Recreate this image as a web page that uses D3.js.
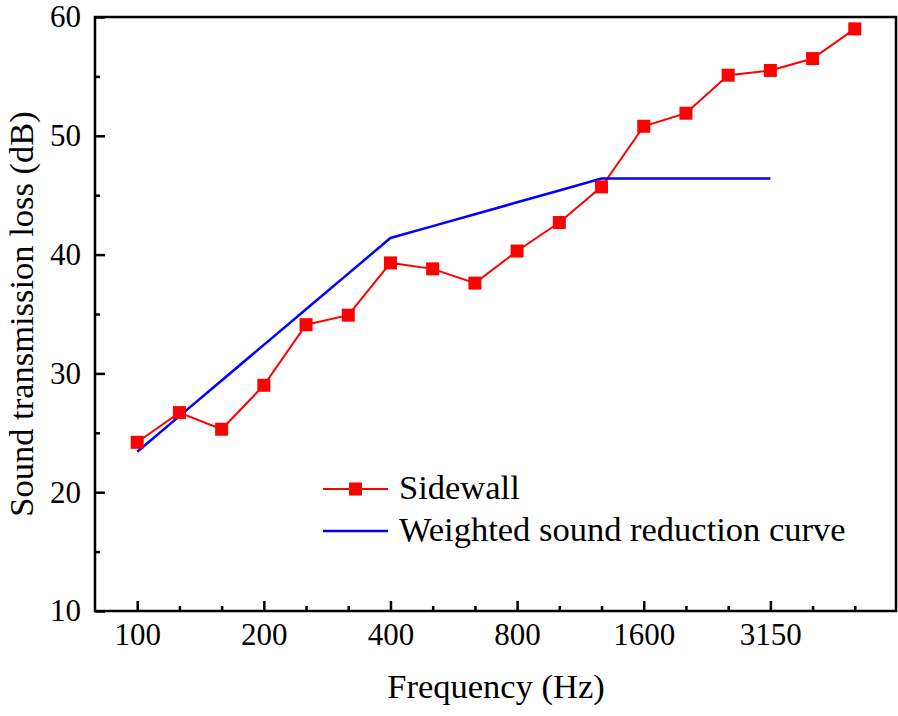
<!DOCTYPE html>
<html lang="en">
  <head>
      <meta charset="utf-8">
      <title>Sound transmission loss</title>
      <script type="text/javascript" src="https://cdn.jsdelivr.net/npm/d3@7"></script>
      <style type="text/css">
            body { margin: 0; background: #fff; }
            svg text { font-family: "Liberation Serif", "Times New Roman", serif; fill: #000; }
            .frame { fill: none; stroke: #000; stroke-width: 2.5; }
            .tick line { stroke: #000; stroke-width: 2.5; }
      </style>
  </head>
  <body>
      <script type="text/javascript">
        var w = 898;
        var h = 716;
        var margin = {left: 95, right: 1, top: 17, bottom: 105};

        // one-third octave bands
        var bands = ["100", "125", "160", "200", "250", "315", "400", "500", "630",
                     "800", "1000", "1250", "1600", "2000", "2500", "3150", "4000", "5000"];
        var labelledBands = ["100", "200", "400", "800", "1600", "3150"];
        var sidewall = [24.2, 26.7, 25.3, 29.0, 34.1, 34.9, 39.3, 38.8, 37.6,
                        40.3, 42.7, 45.7, 50.8, 51.9, 55.1, 55.5, 56.5, 59.0];
        var refBands = ["100", "125", "160", "200", "250", "315", "400", "500",
                        "630", "800", "1000", "1250", "1600", "2000", "2500", "3150"];
        var refCurve = [23.4, 26.4, 29.4, 32.4, 35.4, 38.4, 41.4, 42.4,
                        43.4, 44.4, 45.4, 46.4, 46.4, 46.4, 46.4, 46.4];
        var yTicks = [10, 20, 30, 40, 50, 60];
        var yMinor = [15, 25, 35, 45, 55];

        var xScale = d3.scalePoint()
                       .domain(bands)
                       .range([margin.left, w - margin.right])
                       .padding(1);

        var yScale = d3.scaleLinear()
                       .domain([10, 60])
                       .range([h - margin.bottom, margin.top]);

        var svg = d3.select("body")
              .append("svg")
              .attr("width", w)
              .attr("height", h);

        var bottom = h - margin.bottom;

        // x axis: major ticks for labelled bands, minor for the rest
        var xAxis = svg.append("g")
            .attr("transform", "translate(0," + bottom + ")")
            .call(d3.axisBottom(xScale)
                    .tickSize(-10)
                    .tickPadding(12)
                    .tickFormat(function(d) { return labelledBands.indexOf(d) >= 0 ? d : ""; }));
        xAxis.select(".domain").remove();
        xAxis.selectAll(".tick line")
            .attr("y2", function(d) { return labelledBands.indexOf(d) >= 0 ? -10 : -5; });
        xAxis.selectAll("text").style("font-size", "31px");

        var yAxis = svg.append("g")
            .attr("transform", "translate(" + margin.left + ",0)")
            .call(d3.axisLeft(yScale)
                    .tickValues(yTicks)
                    .tickSize(-10)
                    .tickPadding(14)
                    .tickFormat(d3.format("d")));
        yAxis.select(".domain").remove();
        yAxis.selectAll("text").style("font-size", "31px");

        svg.append("g")
            .attr("transform", "translate(" + margin.left + ",0)")
            .call(d3.axisLeft(yScale).tickValues(yMinor).tickSize(-5).tickFormat(""))
            .select(".domain").remove();

        svg.append("rect")
            .attr("class", "frame")
            .attr("x", margin.left)
            .attr("y", margin.top)
            .attr("width", w - margin.right - margin.left - 1)
            .attr("height", bottom - margin.top);

        var refLine = d3.line()
                        .x(function(d, i) { return xScale(refBands[i]); })
                        .y(function(d) { return yScale(d); });

        var wallLine = d3.line()
                        .x(function(d, i) { return xScale(bands[i]); })
                        .y(function(d) { return yScale(d); });

        svg.append("path")
            .datum(sidewall)
            .attr("fill", "none")
            .attr("stroke", "#ff0000")
            .attr("stroke-width", 2)
            .attr("d", wallLine);

        svg.append("path")
            .datum(refCurve)
            .attr("fill", "none")
            .attr("stroke", "#0000ff")
            .attr("stroke-width", 2.5)
            .attr("d", refLine);

        var sq = 13;
        svg.selectAll(".pt")
           .data(sidewall)
           .enter()
           .append("rect")
           .attr("class", "pt")
           .attr("x", function(d, i) { return xScale(bands[i]) - sq / 2; })
           .attr("y", function(d) { return yScale(d) - sq / 2; })
           .attr("width", sq)
           .attr("height", sq)
           .attr("fill", "#ff0000");

        // legend
        var leg = svg.append("g").attr("transform", "translate(323,489)");
        leg.append("line").attr("x1", 0).attr("x2", 65).attr("y1", 0).attr("y2", 0)
           .attr("stroke", "#ff0000").attr("stroke-width", 2);
        leg.append("rect").attr("x", 32.5 - sq / 2).attr("y", -sq / 2)
           .attr("width", sq).attr("height", sq).attr("fill", "#ff0000");
        leg.append("text").attr("x", 76).attr("y", 10).style("font-size", "34.5px").text("Sidewall");
        leg.append("line").attr("x1", 0).attr("x2", 65).attr("y1", 42).attr("y2", 42)
           .attr("stroke", "#0000ff").attr("stroke-width", 2.5);
        leg.append("text").attr("x", 76).attr("y", 52).style("font-size", "34.5px").text("Weighted sound reduction curve");

        // axis titles
        svg.append("text")
            .attr("x", (margin.left + w - margin.right) / 2)
            .attr("y", 698)
            .attr("text-anchor", "middle")
            .style("font-size", "34.5px")
            .text("Frequency (Hz)");

        svg.append("text")
            .attr("transform", "translate(33," + (margin.top + bottom) / 2 + ") rotate(-90)")
            .attr("text-anchor", "middle")
            .style("font-size", "34.5px")
            .text("Sound transmission loss (dB)");
      </script>
  </body>
</html>
